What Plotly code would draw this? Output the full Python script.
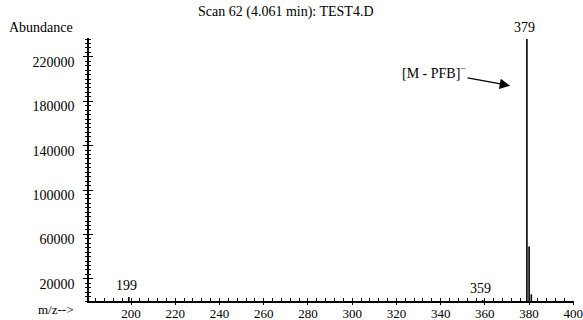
import plotly.graph_objects as go

# Mass spectrum: ion m/z and abundance
mz = [199, 359, 379, 380, 381]
abundance = [3500, 1000, 236000, 49000, 6000]
labelled_mz = [199, 359, 379]

title_text = "Scan 62 (4.061 min): TEST4.D"
y_title = "Abundance"
x_title = "m/z-->"
ion_label = "[M - PFB]<sup>−</sup>"

x_range = [181, 400.3]
y_range = [0, 237000]

FONT = "Liberation Serif, Times New Roman, serif"

# Stick spectrum: one vertical segment per ion
xs, ys = [], []
for m, a in zip(mz, abundance):
    xs += [m, m, None]
    ys += [0, a, None]

fig = go.Figure()
fig.add_trace(go.Scatter(x=xs, y=ys, mode="lines",
                         line=dict(color="black", width=1.6),
                         cliponaxis=False, showlegend=False, hoverinfo="skip"))
# Empty trace carrying the overlay axes (other halves of the crossing ticks)
fig.add_trace(go.Scatter(x=[], y=[], xaxis="x2", yaxis="y2", showlegend=False))

W, H = 583, 320
L, R, T, B = 89, 9, 38, 19
pw, ph = W - L - R, H - T - B


def px(xp):
    return (xp - L) / pw


def py(yp):
    return (H - B - yp) / ph


axis_font = dict(family=FONT, size=14, color="black")
xtick_font = dict(family=FONT, size=13, color="black")

fig.update_layout(
    template="none",
    width=W, height=H,
    margin=dict(l=L, r=R, t=T, b=B),
    paper_bgcolor="white", plot_bgcolor="white",
    font=axis_font,
    xaxis=dict(range=x_range, tick0=200, dtick=20, ticks="inside", ticklen=3,
               tickwidth=1.2, tickcolor="black", showline=True, linecolor="black",
               linewidth=1.5, showgrid=False, zeroline=False, tickfont=xtick_font,
               automargin=False, ticklabelstandoff=0, ticklabeloverflow="allow",
               minor=dict(dtick=4, ticks="inside", ticklen=3, tickwidth=1,
                          tickcolor="black", showgrid=False),
               fixedrange=True),
    yaxis=dict(range=y_range, tick0=20000, dtick=40000, ticks="outside", ticklen=4,
               tickwidth=1.2, tickcolor="black", showline=True, linecolor="black",
               linewidth=1.5, showgrid=False, zeroline=False, tickfont=axis_font,
               automargin=False, tickformat="d", ticklabelshift=5,
               ticklabelstandoff=6,
               minor=dict(dtick=4000, ticks="outside", ticklen=2, tickwidth=1,
                          tickcolor="black", showgrid=False),
               fixedrange=True),
    xaxis2=dict(overlaying="x", side="bottom", range=x_range, tick0=200, dtick=20,
                ticks="outside", ticklen=3, tickwidth=1.2, tickcolor="black",
                showticklabels=False, showline=False, showgrid=False, zeroline=False,
                automargin=False, fixedrange=True),
    yaxis2=dict(overlaying="y", side="left", range=y_range, tick0=20000, dtick=40000,
                ticks="inside", ticklen=4, tickwidth=1.2, tickcolor="black",
                showticklabels=False, showline=False, showgrid=False, zeroline=False,
                automargin=False,
                minor=dict(dtick=4000, ticks="inside", ticklen=2, tickwidth=1,
                           tickcolor="black", showgrid=False),
                fixedrange=True),
)

annotations = [
    dict(text=title_text, xref="paper", yref="paper", x=px(285.5), y=py(12),
         showarrow=False, xanchor="center", yanchor="middle", font=axis_font),
    dict(text=y_title, xref="paper", yref="paper", x=px(41), y=py(28),
         showarrow=False, xanchor="center", yanchor="middle", font=axis_font),
    dict(text=x_title, xref="paper", yref="paper", x=px(55), y=py(309),
         showarrow=False, xanchor="center", yanchor="middle", font=xtick_font),
]

# m/z labels above the labelled peaks
for m, a in zip(mz, abundance):
    if m in labelled_mz:
        annotations.append(dict(text=str(m), x=m, y=a, xref="x", yref="y",
                                showarrow=False, xanchor="center", yanchor="bottom",
                                yshift=2, xshift=-2, font=axis_font))

# Fragment label with its pointer arrow
annotations.append(dict(text=ion_label, x=371.4, y=194000, xref="x", yref="y",
                        showarrow=True, ax=-76, ay=-14, arrowhead=2, arrowsize=1.6,
                        arrowwidth=1.3, arrowcolor="black", standoff=0,
                        font=axis_font))

fig.update_layout(annotations=annotations)

fig.write_html("out.html")
